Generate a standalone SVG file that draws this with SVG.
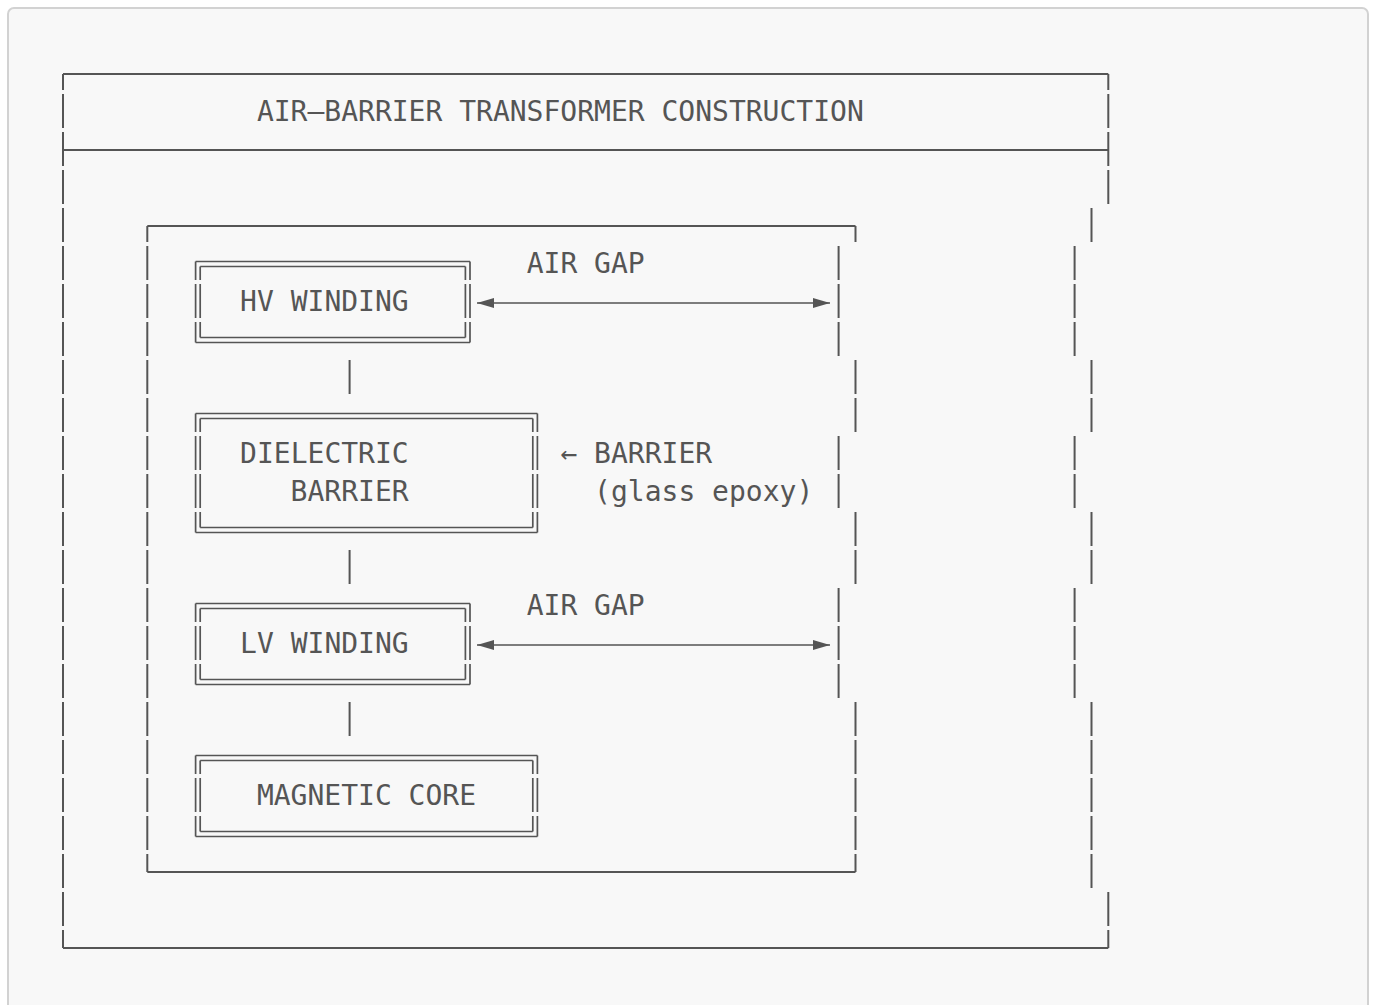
<svg xmlns="http://www.w3.org/2000/svg" width="1373" height="1005" viewBox="0 0 1373 1005">
<style>
.t{font-family:"DejaVu Sans Mono","Liberation Mono",monospace;font-size:28px;fill:#555}
.h{fill:none;stroke:#555;stroke-width:2}
.v{fill:none;stroke:#555;stroke-width:2;stroke-dasharray:34 4}
.dh{fill:none;stroke:#555;stroke-width:1.7}
.dv{fill:none;stroke:#555;stroke-width:1.7;stroke-dasharray:34 4}
.arr{fill:none;stroke:#555;stroke-width:1.6}
</style>
<defs>
<marker id="ah" markerUnits="userSpaceOnUse" markerWidth="18" markerHeight="12" refX="17" refY="5.5" orient="auto-start-reverse">
<path d="M0 0.5L17 5.5L0 10.5z" fill="#555"/>
</marker>
</defs>
<rect x="0" y="0" width="1373" height="1005" fill="#fff"/>
<rect x="8" y="8" width="1360" height="1010" rx="6" fill="#f8f8f8" stroke="#d2d2d2" stroke-width="2"/>

<g id="construction">
<path class="h" d="M63 74H1108.3M63 150H1108.3M63 948H1108.3"/>
<line class="v" x1="63" y1="74" x2="63" y2="948" stroke-dashoffset="18"/>
<path class="v" d="M1108.3 74V204" stroke-dashoffset="18"/>
<path class="v" d="M1091.5 208V242M1074.6 246V356M1091.5 360V432M1074.6 436V508M1091.5 512V584M1074.6 588V698M1091.5 702V888M1108.3 892V948"/>
<text class="t" x="256.9" y="121">AIR—BARRIER TRANSFORMER CONSTRUCTION</text>
</g>

<g id="enclosure">
<path class="h" d="M147.3 226H855.5M147.3 872H855.5"/>
<line class="v" x1="147.3" y1="226" x2="147.3" y2="872" stroke-dashoffset="18"/>
<path class="v" d="M855.5 226V242M838.6 246V356M855.5 360V432M838.6 436V508M855.5 512V584M838.6 588V698M855.5 702V872"/>
</g>

<g id="hv-winding">
<path class="dh" d="M195.6 261.5H470M200.2 266.5H465.4M195.6 342.5H470M200.2 337.5H465.4"/>
<path class="dv" d="M195.6 261.5V342.5M470 261.5V342.5" stroke-dashoffset="15.5"/>
<path class="dv" d="M200.2 266.5V337.5M465.4 266.5V337.5" stroke-dashoffset="20.5"/>
<text class="t" x="240.1" y="311">HV WINDING</text>
</g>

<g id="dielectric-barrier">
<path class="dh" d="M195.6 413.5H537.4M200.2 418.5H532.8M195.6 532.5H537.4M200.2 527.5H532.8"/>
<path class="dv" d="M195.6 413.5V532.5M537.4 413.5V532.5" stroke-dashoffset="15.5"/>
<path class="dv" d="M200.2 418.5V527.5M532.8 418.5V527.5" stroke-dashoffset="20.5"/>
<text class="t" x="240.1" y="463">DIELECTRIC</text>
<text class="t" x="290.6" y="501">BARRIER</text>
</g>

<g id="lv-winding">
<path class="dh" d="M195.6 603.5H470M200.2 608.5H465.4M195.6 684.5H470M200.2 679.5H465.4"/>
<path class="dv" d="M195.6 603.5V684.5M470 603.5V684.5" stroke-dashoffset="15.5"/>
<path class="dv" d="M200.2 608.5V679.5M465.4 608.5V679.5" stroke-dashoffset="20.5"/>
<text class="t" x="240.1" y="653">LV WINDING</text>
</g>

<g id="magnetic-core">
<path class="dh" d="M195.6 755.5H537.4M200.2 760.5H532.8M195.6 836.5H537.4M200.2 831.5H532.8"/>
<path class="dv" d="M195.6 755.5V836.5M537.4 755.5V836.5" stroke-dashoffset="15.5"/>
<path class="dv" d="M200.2 760.5V831.5M532.8 760.5V831.5" stroke-dashoffset="20.5"/>
<text class="t" x="256.9" y="805">MAGNETIC CORE</text>
</g>

<g id="labels">
<text class="t" x="526.7" y="273">AIR GAP</text>
<text class="t" x="526.7" y="615">AIR GAP</text>
<text class="t" x="560.4" y="463">← BARRIER</text>
<text class="t" x="594.1" y="501">(glass epoxy)</text>
</g>

<g id="connectors">
<path class="h" d="M349.6 360V394M349.6 550V584M349.6 702V736"/>
<line class="arr" x1="477" y1="303" x2="830" y2="303" marker-start="url(#ah)" marker-end="url(#ah)"/>
<line class="arr" x1="477" y1="645" x2="830" y2="645" marker-start="url(#ah)" marker-end="url(#ah)"/>
</g>
</svg>
